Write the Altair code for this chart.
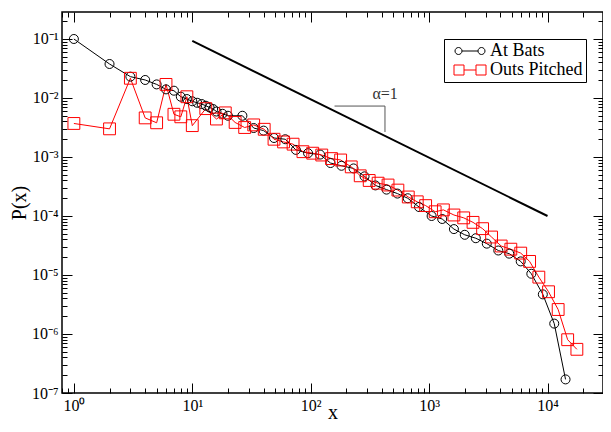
import altair as alt
import pandas as pd

SERIES = ["At Bats", "Outs Pitched"]
COLORS = ["black", "#ff0000"]

at_bats_x = [1, 2, 3, 4, 5, 6, 7, 8, 9, 10, 11, 12, 13, 14, 15, 16, 18, 20,
             26.5, 33, 40, 49, 61, 75, 95, 120, 147, 182, 230, 285, 352, 437,
             540, 660, 822, 1050, 1290, 1620, 2000, 2480, 3070, 3840, 4750,
             5940, 7300, 9130, 11400, 14200]
at_bats_y = [0.1, 0.0377, 0.023, 0.0202, 0.017, 0.014, 0.0133, 0.0105, 0.0096,
             0.0088, 0.0083, 0.0079, 0.0074, 0.0069, 0.0065, 0.0059, 0.0054, 0.0050,
             0.0050, 3.1e-3, 2.8e-3, 2.1e-3, 2.0e-3, 1.32e-3, 1.16e-3, 1.1e-3,
             7.9e-4, 7.1e-4, 6.4e-4, 4.7e-4, 3.3e-4, 2.8e-4, 2.4e-4, 2.0e-4,
             1.42e-4, 1.0e-4, 8.9e-5, 6.0e-5, 4.8e-5, 4.2e-5, 3.4e-5, 2.6e-5,
             2.3e-5, 1.7e-5, 1.05e-5, 4.7e-6, 1.5e-6, 1.7e-7]

outs_x = [1, 2, 3, 4, 5, 6, 7, 8, 9, 10, 13, 16, 19, 23, 27.7, 33, 40.5, 49,
          59, 71, 86, 104, 124, 150, 179, 220, 262, 312, 371, 450, 545, 667,
          794, 935, 1125, 1320, 1620, 1960, 2350, 2830, 3370, 4060, 4900, 5940,
          7060, 8450, 10200, 12300, 14800, 17700]
outs_y = [3.7e-3, 3.0e-3, 0.0216, 4.6e-3, 3.8e-3, 0.017, 5.3e-3, 4.8e-3, 0.0105,
          3.4e-3, 6.6e-3, 4.4e-3, 5.6e-3, 3.85e-3, 3.16e-3, 3.5e-3, 2.95e-3,
          2.0e-3, 1.8e-3, 1.65e-3, 1.23e-3, 1.16e-3, 1.08e-3, 9.4e-4, 8.9e-4,
          6.8e-4, 4.8e-4, 4.0e-4, 3.6e-4, 3.35e-4, 2.75e-4, 2.1e-4, 1.74e-4,
          1.5e-4, 1.18e-4, 1.27e-4, 1.04e-4, 9.3e-5, 7.8e-5, 6.1e-5, 4.4e-5,
          3.1e-5, 2.74e-5, 2.35e-5, 1.7e-5, 9.2e-6, 5.2e-6, 2.6e-6, 8.0e-7, 5.5e-7]

# reference power law (alpha = 1) and its slope triangle
guide_x = [10, 10000]
guide_y = [0.093, 1.0e-4]
tri_x = [159, 424, 424]
tri_y = [7.3e-3, 7.3e-3, 2.65e-3]
label_x = [425]
label_y = [0.0115]
label_text = ["\u03b1=1"]

X_DOMAIN = [0.7937, 29420]
Y_DOMAIN = [1e-7, 0.2868]
x_major = [1, 10, 100, 1000, 10000]
x_minor = [0.8, 0.9] + [m * 10 ** k for k in range(0, 5) for m in range(2, 10)
                         if m * 10 ** k < X_DOMAIN[1]]
y_major = [10 ** -k for k in range(1, 8)]
y_minor = [m * 10.0 ** -k for k in range(1, 8) for m in range(2, 10)
           if m * 10.0 ** -k < Y_DOMAIN[1]]

data = pd.concat([
    pd.DataFrame({"x": at_bats_x, "y": at_bats_y, "series": SERIES[0]}),
    pd.DataFrame({"x": outs_x, "y": outs_y, "series": SERIES[1]}),
])
guide = pd.DataFrame({"x": guide_x, "y": guide_y})
tri = pd.DataFrame({"x": tri_x, "y": tri_y, "o": [0, 1, 2]})
lab = pd.DataFrame({"x": label_x, "y": label_y, "t": label_text})

W, H = 541, 381
FONT = "Liberation Serif"

xs = alt.Scale(type="log", domain=X_DOMAIN, nice=False)
ys = alt.Scale(type="log", domain=Y_DOMAIN, nice=False)

SUP = "\u2070\u00b9\u00b2\u00b3\u2074\u2075\u2076\u2077\u2078\u2079"
LABEL_EXPR = ("'10' + (datum.value < 1 ? '\u207b' : '') + substring('" + SUP +
              "', abs(round(log(datum.value)/LN10)), abs(round(log(datum.value)/LN10)) + 1)")


def mk_axis(orient, values, major, labels=False, title=None, **extra):
    size = 10 if major else 5
    kw = dict(orient=orient, values=values, offset=-size, tickSize=size,
              domain=False, grid=False, tickColor="black", tickWidth=1,
              labels=labels, title=title)
    if labels:
        kw.update(labelExpr=LABEL_EXPR, labelFont=FONT, labelFontSize=16,
                  labelColor="black", labelPadding=4, labelFlush=False,
                  labelOverlap=False)
    if title:
        kw.update(titleFont=FONT, titleFontSize=20, titleFontWeight="normal",
                  titleColor="black")
    kw.update(extra)
    return alt.Axis(**kw)


base = alt.Chart(data)

black_line = base.transform_filter(alt.datum.series == SERIES[0]).mark_line(
    color="black", strokeWidth=1).encode(
    x=alt.X("x:Q", scale=xs,
            axis=mk_axis("bottom", x_major, True, True, "x",
                         titleY=35, titleBaseline="alphabetic")),
    y=alt.Y("y:Q", scale=ys,
            axis=mk_axis("left", y_major, True, True, "P(x)",
                         titleX=-53, titleY=H / 2, titleAngle=270,
                         titleAlign="center", titleBaseline="middle")),
)
red_line = base.transform_filter(alt.datum.series == SERIES[1]).mark_line(
    color="#ff0000", strokeWidth=1).encode(
    x=alt.X("x:Q", scale=xs, axis=mk_axis("top", x_major, True)),
    y=alt.Y("y:Q", scale=ys, axis=mk_axis("right", y_major, True)),
)
black_pts = base.transform_filter(alt.datum.series == SERIES[0]).mark_point(
    shape="circle", size=81, filled=False, color="black", strokeWidth=1,
    opacity=1).encode(
    x=alt.X("x:Q", scale=xs, axis=mk_axis("bottom", x_minor, False)),
    y=alt.Y("y:Q", scale=ys, axis=mk_axis("left", y_minor, False)),
)
red_pts = base.transform_filter(alt.datum.series == SERIES[1]).mark_point(
    shape="square", size=140, filled=False, color="#ff0000", strokeWidth=1,
    opacity=1).encode(
    x=alt.X("x:Q", scale=xs, axis=mk_axis("top", x_minor, False)),
    y=alt.Y("y:Q", scale=ys, axis=mk_axis("right", y_minor, False)),
)

guide_line = alt.Chart(guide).mark_line(color="black", strokeWidth=2).encode(
    x=alt.X("x:Q", scale=xs, axis=None),
    y=alt.Y("y:Q", scale=ys, axis=None),
)
tri_line = alt.Chart(tri).mark_line(color="#555555", strokeWidth=1).encode(
    x=alt.X("x:Q", scale=xs, axis=None),
    y=alt.Y("y:Q", scale=ys, axis=None),
    order="o:Q",
)
tri_text = alt.Chart(lab).mark_text(font=FONT, fontSize=16, color="#333333",
                                    align="center", baseline="middle").encode(
    x=alt.X("x:Q", scale=xs, axis=None),
    y=alt.Y("y:Q", scale=ys, axis=None),
    text="t:N",
)

# legend glyphs (line with a marker at each end)
PATH_CIRC = ("M1.2,0 A0.7,0.7 0 1,1 -0.2,0 A0.7,0.7 0 1,1 1.2,0 "
             "M1.2,0 L4.4,0 "
             "M4.4,0 A0.7,0.7 0 1,1 5.8,0 A0.7,0.7 0 1,1 4.4,0")
PATH_SQ = ("M-0.4,-1 L1.6,-1 L1.6,1 L-0.4,1 Z "
           "M1.6,0 L4.0,0 "
           "M4.0,-1 L6.0,-1 L6.0,1 L4.0,1 Z")

legend = alt.Legend(title=None, orient="none", legendX=382, legendY=27,
                    strokeColor="black", fillColor="white", padding=3,
                    labelFont=FONT, labelFontSize=18, labelColor="black",
                    symbolSize=100, symbolStrokeWidth=1, symbolOffset=0,
                    labelOffset=25, rowPadding=1, columnPadding=0, columns=1,
                    cornerRadius=0)

legend_layer = alt.Chart(data).transform_filter("false").mark_point(
    filled=False, opacity=1).encode(
    x=alt.X("x:Q", scale=xs, axis=None),
    y=alt.Y("y:Q", scale=ys, axis=None),
    color=alt.Color("series:N", scale=alt.Scale(domain=SERIES, range=COLORS),
                    legend=legend),
    shape=alt.Shape("series:N", scale=alt.Scale(domain=SERIES,
                                                range=[PATH_CIRC, PATH_SQ]),
                    legend=legend),
)

chart = alt.layer(
    guide_line, tri_line, tri_text,
    black_line, red_line, black_pts, red_pts, legend_layer,
).resolve_axis(
    x="independent", y="independent"
).properties(
    width=W, height=H,
    autosize=alt.AutoSizeParams(type="none"),
    padding={"left": 54, "top": 4, "right": 0, "bottom": 31},
    background="white",
).configure_view(
    stroke="black", strokeWidth=1.5
)

chart.save("out.html", embed_options={"renderer": "svg", "actions": False})
